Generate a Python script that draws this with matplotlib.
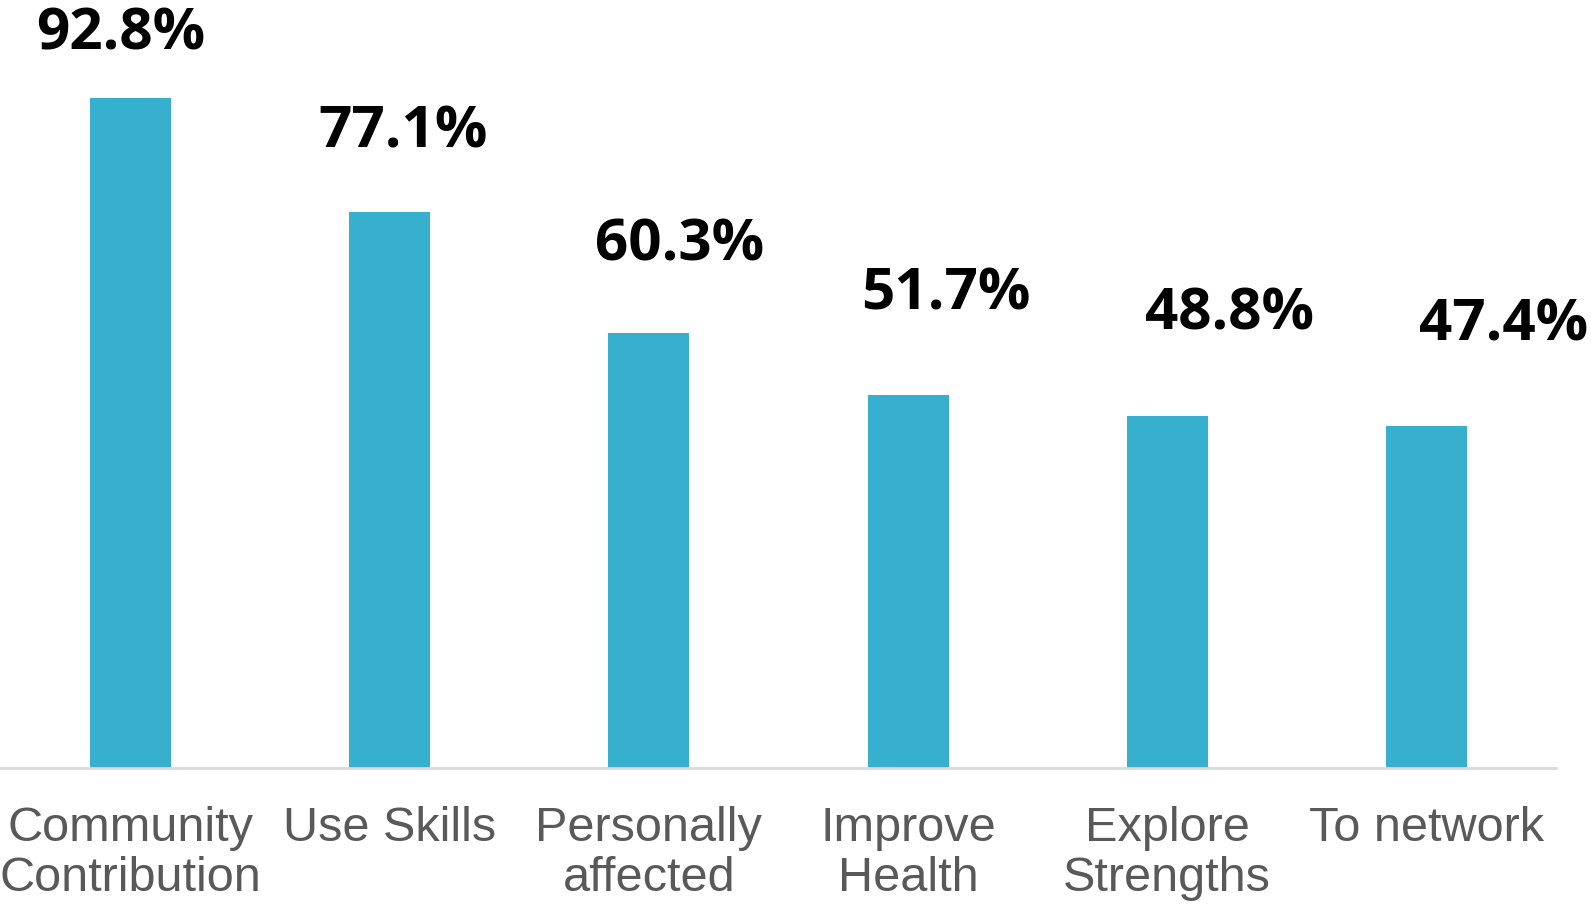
import matplotlib
matplotlib.use("Agg")
import matplotlib.pyplot as plt

categories = ["Community\nContribution", "Use Skills", "Personally\naffected",
              "Improve\nHealth", "Explore\nStrengths", "To network"]
values = [92.8, 77.1, 60.3, 51.7, 48.8, 47.4]
value_labels = ["92.8%", "77.1%", "60.3%", "51.7%", "48.8%", "47.4%"]

# label placement offsets (pixels) relative to bar top centre
label_dx = [-10, 13.5, 30.7, 37.5, 62.7, 77.6]
label_dy = [49, 64, 72.3, 85, 86, 85.7]

W, H = 1591, 905
fig = plt.figure(figsize=(W / 100, H / 100), dpi=100)
ax = fig.add_axes([1 / W, 137 / H, 1555 / W, (768 - 46.5) / H])

x = list(range(len(categories)))
ax.bar(x, values, width=0.313, color="#37AFCF")
ax.set_xlim(-0.5, len(categories) - 0.5)
ax.set_ylim(0, 100)

for xi, v, lab, dx, dy in zip(x, values, value_labels, label_dx, label_dy):
    ax.annotate(lab, xy=(xi, v), xytext=(dx, dy), textcoords="offset pixels",
                ha="center", va="baseline", fontsize=42, fontweight="bold",
                family="Open Sans", color="black", annotation_clip=False)

ax.set_xticks(x)
ax.set_xticklabels(categories, fontsize=35, color="#595959",
                   family="Liberation Sans", linespacing=1.17)
ax.tick_params(axis="x", length=0, pad=27)
ax.set_yticks([])
for s in ["top", "right", "left"]:
    ax.spines[s].set_visible(False)
ax.spines["bottom"].set_color("#D9D9D9")
ax.spines["bottom"].set_linewidth(2)

fig.savefig("out.png", dpi=100)
